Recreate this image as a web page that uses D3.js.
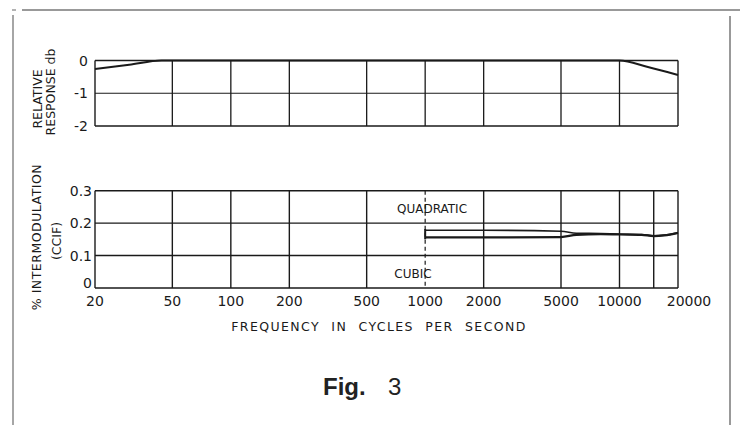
<!DOCTYPE html>
<html><head><meta charset="utf-8">
<script src="https://cdn.jsdelivr.net/npm/d3@7"></script>
<style>body{margin:0;background:#fff}svg{display:block}</style>
</head><body><svg id="c" width="740" height="426"></svg>
<script>
const xTicks = [20,50,100,200,500,1000,2000,5000,10000,20000];
const xTickLabels = ["20","50","100","200","500","1000","2000","5000","10000","20000"];
const topGrid = [50,100,200,500,1000,2000,5000,10000];
const bottomGrid = [50,100,200,500,2000,5000,10000,15000];
const topYTicks = [0,-1,-2];
const bottomYTicks = [0.3,0.2,0.1,0];
const bottomYLabels = ["0.3","0.2","0.1","0"];
const respFreq = [20,30,44,100,1000,10000,14000,20000];
const respDb   = [-0.26,-0.13,0,0,0,0,-0.2,-0.44];
const quadFreq = [1000,2000,5000,6000,8000,10000,13000,15000,17000,20000];
const quadVal  = [0.178,0.178,0.175,0.169,0.168,0.166,0.165,0.161,0.163,0.170];
const cubFreq  = [1000,2000,5000,6000,8000,10000,13000,15000,17000,20000];
const cubVal   = [0.156,0.156,0.157,0.164,0.166,0.165,0.164,0.160,0.162,0.170];

const svg = d3.select("#c");
const font = "'DejaVu Sans', sans-serif";
const x = d3.scaleLog().domain([20,20000]).range([95,678]);
const yT = d3.scaleLinear().domain([-2,0]).range([126,60.5]);
const yB = d3.scaleLinear().domain([0,0.3]).range([288,190.7]);
const ink = "#1a1a1a";

// frame
svg.append("line").attr("x1",22).attr("x2",740).attr("y1",10).attr("y2",10).attr("stroke","#777").attr("stroke-width",1.5);
svg.append("line").attr("x1",12).attr("x2",16).attr("y1",10).attr("y2",10).attr("stroke","#999").attr("stroke-width",1.5);
svg.append("line").attr("x1",13).attr("x2",13).attr("y1",15).attr("y2",425).attr("stroke","#888").attr("stroke-width",1.5);
svg.append("line").attr("x1",730).attr("x2",730).attr("y1",16).attr("y2",425).attr("stroke","#777").attr("stroke-width",1.5);

// top panel
const gT = svg.append("g");
gT.selectAll(".hg").data(topYTicks).join("line")
  .attr("x1",x(20)).attr("x2",x(20000)).attr("y1",d=>yT(d)).attr("y2",d=>yT(d))
  .attr("stroke",ink).attr("stroke-width",d=>d===-1?1.2:1.5);
gT.selectAll(".vg").data(topGrid).join("line")
  .attr("x1",d=>x(d)).attr("x2",d=>x(d)).attr("y1",yT(0)).attr("y2",yT(-2))
  .attr("stroke",ink).attr("stroke-width",1.3);
[20,20000].forEach(f=>gT.append("line").attr("x1",x(f)).attr("x2",x(f)).attr("y1",yT(0)).attr("y2",yT(-2)).attr("stroke",ink).attr("stroke-width",1.4));
gT.append("path").datum(respFreq.map((f,i)=>[f,respDb[i]]))
  .attr("d",d3.line().x(d=>x(d[0])).y(d=>yT(d[1])).curve(d3.curveMonotoneX))
  .attr("fill","none").attr("stroke",ink).attr("stroke-width",2);
gT.selectAll(".yl").data(topYTicks).join("text")
  .attr("x",88).attr("y",d=>yT(d)+5).attr("text-anchor","end")
  .attr("font-family",font).attr("font-size",14).attr("fill",ink)
  .text(d=>d===0?"0":String(d));
gT.append("text").attr("transform","translate(42,99) rotate(-90)").attr("text-anchor","middle")
  .attr("font-family",font).attr("font-size",12.5).attr("fill",ink).text("RELATIVE");
gT.append("text").attr("transform","translate(55,92) rotate(-90)").attr("text-anchor","middle")
  .attr("font-family",font).attr("font-size",12.5).attr("fill",ink).text("RESPONSE db");

// bottom panel
const gB = svg.append("g");
gB.selectAll(".hg").data(bottomYTicks).join("line")
  .attr("x1",x(20)).attr("x2",x(20000)).attr("y1",d=>yB(d)).attr("y2",d=>yB(d))
  .attr("stroke",ink).attr("stroke-width",d=>(d===0.2)?1.1:1.5);
gB.selectAll(".vg").data(bottomGrid).join("line")
  .attr("x1",d=>x(d)).attr("x2",d=>x(d)).attr("y1",yB(0.3)).attr("y2",yB(0))
  .attr("stroke",ink).attr("stroke-width",1.4);
[20,20000].forEach(f=>gB.append("line").attr("x1",x(f)).attr("x2",x(f)).attr("y1",yB(0.3)).attr("y2",yB(0)).attr("stroke",ink).attr("stroke-width",1.4));
gB.append("line").attr("x1",x(1000)).attr("x2",x(1000)).attr("y1",yB(0.3)).attr("y2",yB(0))
  .attr("stroke",ink).attr("stroke-width",1.2).attr("stroke-dasharray","4,3");
gB.append("line").attr("x1",x(1000)).attr("x2",x(1000)).attr("y1",yB(0.182)).attr("y2",yB(0.15))
  .attr("stroke",ink).attr("stroke-width",2);
const lineB = d3.line().x(d=>x(d[0])).y(d=>yB(d[1])).curve(d3.curveMonotoneX);
gB.append("path").datum(quadFreq.map((f,i)=>[f,quadVal[i]])).attr("d",lineB)
  .attr("fill","none").attr("stroke",ink).attr("stroke-width",1.6);
gB.append("path").datum(cubFreq.map((f,i)=>[f,cubVal[i]])).attr("d",lineB)
  .attr("fill","none").attr("stroke",ink).attr("stroke-width",2.2);
gB.selectAll(".yl").data(bottomYTicks).join("text")
  .attr("x",92).attr("y",d=>yB(d)+(d===0?0:5)).attr("text-anchor","end")
  .attr("font-family",font).attr("font-size",14).attr("fill",ink)
  .text((d,i)=>bottomYLabels[i]);
gB.append("text").attr("x",432).attr("y",213).attr("text-anchor","middle")
  .attr("font-family",font).attr("font-size",12).attr("fill",ink).text("QUADRATIC");
gB.append("text").attr("x",413).attr("y",278).attr("text-anchor","middle")
  .attr("font-family",font).attr("font-size",12).attr("fill",ink).text("CUBIC");
gB.append("text").attr("transform","translate(41,237) rotate(-90)").attr("text-anchor","middle")
  .attr("font-family",font).attr("font-size",12.5).attr("letter-spacing",0.5).attr("fill",ink).text("% INTERMODULATION");
gB.append("text").attr("transform","translate(61,241) rotate(-90)").attr("text-anchor","middle")
  .attr("font-family",font).attr("font-size",12.5).attr("fill",ink).text("(CCIF)");

// x tick labels
svg.selectAll(".xl").data(xTicks).join("text")
  .attr("x",d=>x(d)+(d===20000?11:0)).attr("y",306).attr("text-anchor","middle")
  .attr("font-family",font).attr("font-size",14).attr("fill",ink)
  .text((d,i)=>xTickLabels[i]);
svg.append("text").attr("x",379).attr("y",331).attr("text-anchor","middle")
  .attr("font-family",font).attr("font-size",12.5).attr("letter-spacing",1.4).attr("fill",ink)
  .attr("word-spacing",6).text("FREQUENCY IN CYCLES PER SECOND");
svg.append("text").attr("x",323).attr("y",395)
  .attr("font-family","'Liberation Sans', Arial, sans-serif").attr("font-size",24).attr("font-weight","bold")
  .attr("fill","#222").text("Fig.");
svg.append("text").attr("x",388).attr("y",395)
  .attr("font-family","'Liberation Sans', Arial, sans-serif").attr("font-size",24)
  .attr("fill","#222").text("3");
</script></body></html>
